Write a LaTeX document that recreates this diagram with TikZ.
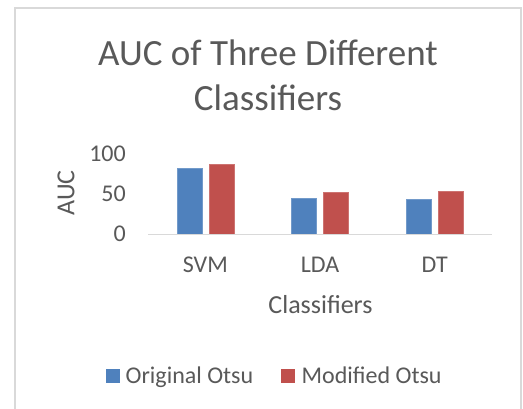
\documentclass[tikz,border=0pt]{standalone}
\usepackage{fontspec}
\setmainfont{Carlito}
\definecolor{txtgray}{RGB}{89,89,89}
\definecolor{framegray}{RGB}{217,217,217}
\definecolor{seriesA}{RGB}{79,129,189}
\definecolor{seriesB}{RGB}{192,80,77}
\tikzset{
  lbl/.style={text=txtgray, inner sep=0pt, font=\fontsize{24}{28}\selectfont},
  axtitle/.style={text=txtgray, inner sep=0pt, font=\fontsize{26}{30}\selectfont},
  ttl/.style={text=txtgray, inner sep=0pt, font=\fontsize{37}{44}\selectfont},
  barA/.style={fill=seriesA, draw=seriesA!80!white, line width=0.6pt},
  barB/.style={fill=seriesB, draw=seriesB!80!white, line width=0.6pt},
}
\begin{document}
\begin{tikzpicture}[x=1pt, y=-1pt]
  \useasboundingbox (0,0) rectangle (523,408);
  \fill[white] (0,0) rectangle (523,408);
  % chart frame (runs past the lower edge)
  \draw[framegray, line width=1.5pt] (15,420) -- (15,8) -- (521,8) -- (521,420);

  % title
  \node[ttl, anchor=base] (t1) at (268,65) {AUC of Three Different};
  \node[ttl, anchor=base] (t2) at (268,110) {Classifiers};

  % value axis labels (0.8 px per unit, zero at y=234)
  \node[lbl, anchor=base east] (y100) at (126,161) {100};
  \node[lbl, anchor=base east] (y50) at (126,201) {50};
  \node[lbl, anchor=base east] (y0) at (126,241) {0};
  \node[axtitle, rotate=90] (ytitle) at (66,193) {AUC};

  % bars
  \def\base{234}
  \foreach \cx/\va/\vb in {205.3/82/87, 320/45/52.5, 434.7/44/53}{
    \draw[barA] (\cx-28.5,\base) rectangle (\cx-3.5,\base-0.8*\va);
    \draw[barB] (\cx+3.5,\base) rectangle (\cx+28.5,\base-0.8*\vb);
  }

  % category axis
  \coordinate (ax0) at (148,234.5);
  \coordinate (ax1) at (492,234.5);
  \draw[framegray, line width=1.5pt] (ax0) -- (ax1);
  \node[lbl, anchor=base] (c1) at (205.3,272.5) {SVM};
  \node[lbl, anchor=base] (c2) at (320,272.5) {LDA};
  \node[lbl, anchor=base] (c3) at (434.7,272.5) {DT};
  \node[axtitle, anchor=base] (xtitle) at (320.5,313) {Classifiers};

  % legend
  \node[fill=seriesA, minimum size=14pt, inner sep=0pt] (kA) at (113,376) {};
  \node[lbl, anchor=base west] (lA) at (125.5,383.5) {Original Otsu};
  \node[fill=seriesB, minimum size=14pt, inner sep=0pt] (kB) at (288,376) {};
  \node[lbl, anchor=base west] (lB) at (301.5,383.5) {Modified Otsu};
\end{tikzpicture}
\end{document}
